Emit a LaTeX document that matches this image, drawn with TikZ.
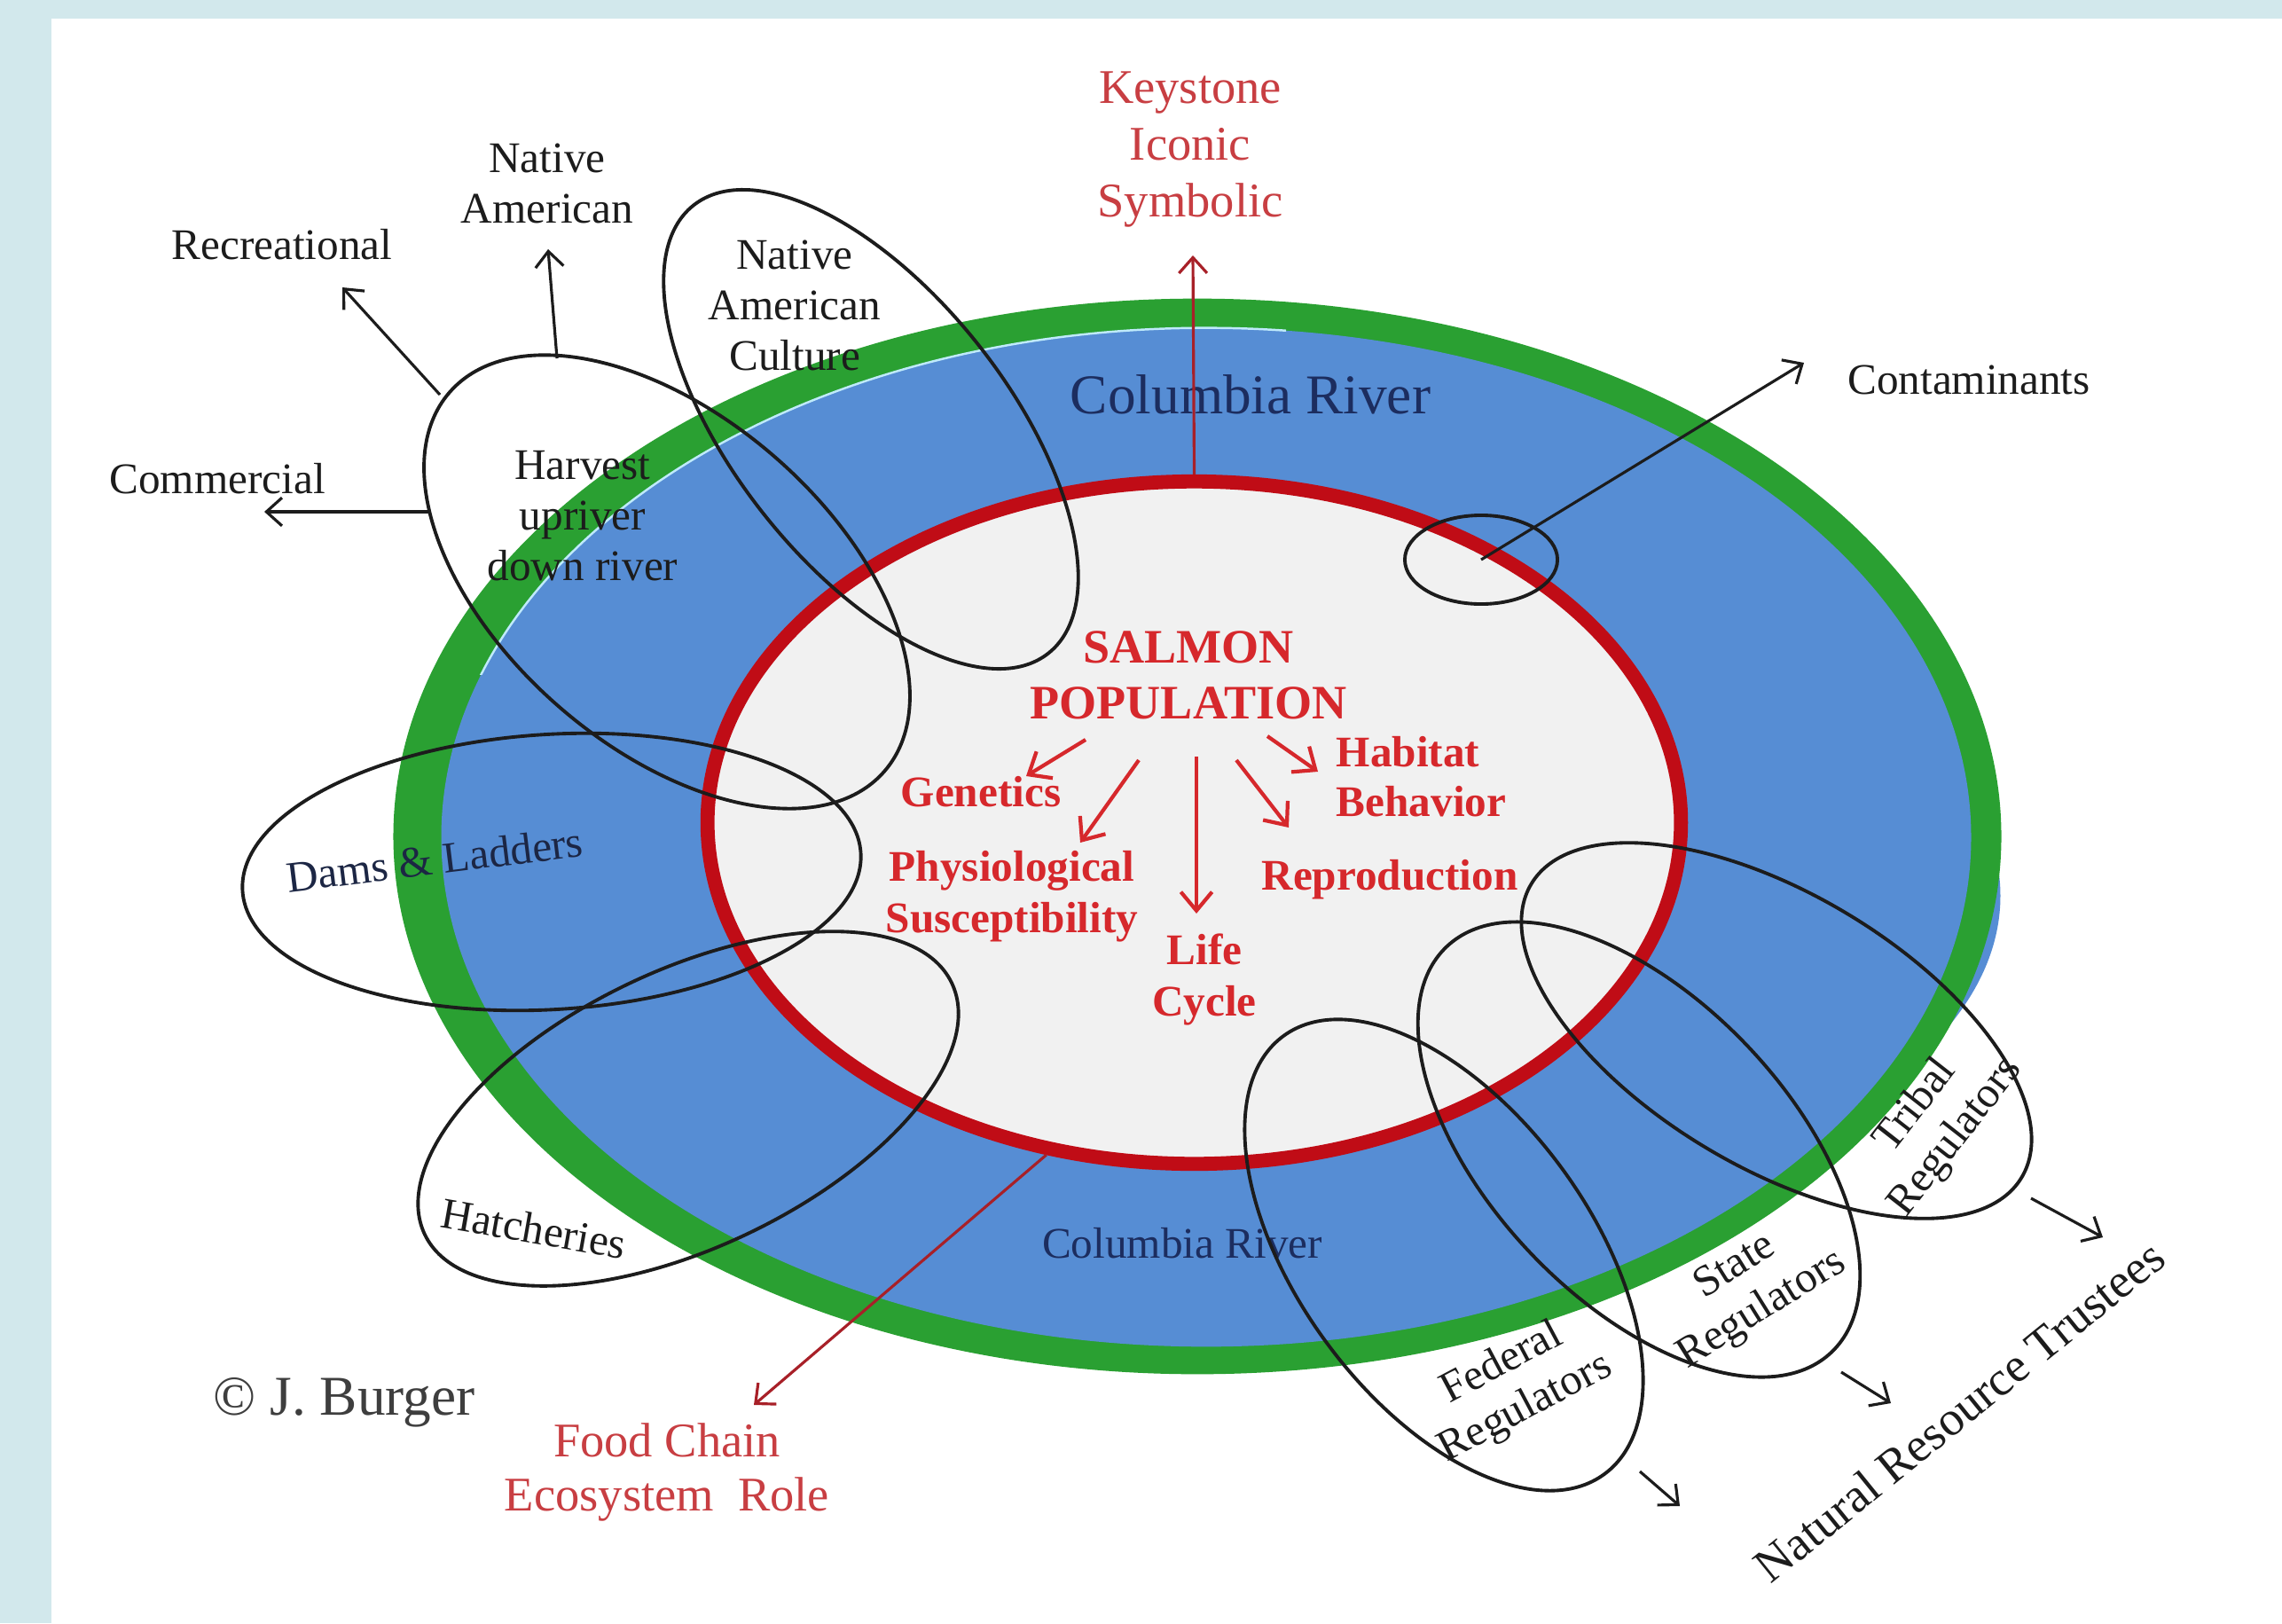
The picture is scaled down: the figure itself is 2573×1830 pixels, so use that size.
\documentclass[tikz,border=0pt]{standalone}
\usepackage{fontspec}
\setmainfont{Liberation Serif}
\usetikzlibrary{arrows.meta,shapes.geometric}
\definecolor{strip}{RGB}{210,232,236}
\definecolor{rimgreen}{RGB}{42,160,50}
\definecolor{riverblue}{RGB}{86,141,212}
\definecolor{innergray}{RGB}{241,241,241}
\definecolor{ringred}{RGB}{192,12,22}
\definecolor{popred}{RGB}{214,40,44}
\definecolor{softred}{RGB}{200,62,66}
\definecolor{darkred}{RGB}{168,32,40}
\definecolor{navy}{RGB}{28,45,95}
\definecolor{ink}{RGB}{28,28,28}
\tikzset{
  ring/.style={ellipse, draw=ink, line width=1.1pt, inner sep=0pt},
  lbl/.style={text=ink, inner sep=0pt, align=center, font=\fontsize{14}{16.2}\selectfont},
  redlbl/.style={text=softred, inner sep=0pt, align=center, font=\fontsize{15.5}{18.2}\selectfont},
  poplbl/.style={text=popred, inner sep=0pt, align=center, font=\bfseries\fontsize{14}{16.5}\selectfont},
  riverlbl/.style={text=navy, inner sep=0pt},
  barrow/.style={draw=ink, line width=0.9pt, -{Straight Barb[length=5pt,width=9pt]}},
  rarrow/.style={draw=popred, line width=1.2pt, -{Straight Barb[length=6pt,width=10pt]}},
  dkarrow/.style={draw=darkred, line width=0.9pt, -{Straight Barb[length=5pt,width=9pt]}},
}
\begin{document}
\begin{tikzpicture}[x=0.01cm, y=-0.01cm]
\useasboundingbox (0,0) rectangle (2573,1830);
\fill[strip] (0,0) rectangle (2573,1830);
\fill[white] (58,21) rectangle (2573,1830);

% river rings
\fill[riverblue] (1420,1010) ellipse [x radius=8.35cm, y radius=4.0cm];
\fill[rimgreen] (1350,943) ellipse [x radius=9.06cm, y radius=6.06cm];
\fill[riverblue] (1360,944) ellipse [x radius=8.62cm, y radius=5.74cm];
\begin{scope}
  \clip (400,300) rectangle (1450,760);
  \draw[white!75!cyan, line width=0.7pt] (1360,944) ellipse [x radius=8.62cm, y radius=5.74cm];
\end{scope}
\node[ellipse, draw=ringred, fill=innergray, line width=4.5pt, inner sep=0pt,
      minimum width=10.97cm, minimum height=7.69cm] (salmon) at (1346.5,927.5) {};

% river labels
\node[riverlbl, font=\fontsize{18}{20}\selectfont] (riverTop) at (1410,445) {Columbia River};
\node[riverlbl, font=\fontsize{14}{16}\selectfont] (riverBot) at (1333,1402) {Columbia River};

% overlapping ellipses
\node[ring, minimum width=6.5cm, minimum height=3.72cm, rotate=-41.1] (harvest) at (752,656) {};
\node[ring, minimum width=6.44cm, minimum height=3.08cm, rotate=-51.6] (culture) at (982,484) {};
\node[ring, minimum width=6.98cm, minimum height=3.10cm, rotate=3.5] (dams) at (622,983) {};
\node[ring, minimum width=6.58cm, minimum height=3.12cm, rotate=25.5] (hatch) at (776,1250) {};
\node[ring, minimum width=6.12cm, minimum height=3.30cm, rotate=-53.8] (federal) at (1628,1415) {};
\node[ring, minimum width=6.30cm, minimum height=3.38cm, rotate=-46.5] (state) at (1848,1296) {};
\node[ring, minimum width=6.44cm, minimum height=3.08cm, rotate=-30.9] (tribal) at (2003,1162) {};
\node[ring, minimum width=1.72cm, minimum height=1.00cm] (contring) at (1670,631) {};

% black labels
\node[lbl] (natam) at (617,207) {Native\\American};
\node[lbl] (recr) at (318,276) {Recreational};
\node[lbl] (comm) at (245,540) {Commercial};
\node[lbl] (harvtxt) at (657,582) {Harvest\\upriver\\down river};
\node[lbl] (culttxt) at (896,344) {Native\\American\\Culture};
\node[lbl] (contam) at (2220,428) {Contaminants};
\node[lbl, text=navy!60!ink, rotate=7] (damstxt) at (490,969) {Dams \& Ladders};
\node[lbl, rotate=-10] (hatchtxt) at (602,1385) {Hatcheries};
\node[lbl, rotate=28] (fedtxt) at (1707,1563) {Federal\\Regulators};
\node[lbl, rotate=32] (statetxt) at (1972,1453) {State\\Regulators};
\node[lbl, rotate=52] (tribtxt) at (2183,1265) {Tribal\\Regulators};
\node[lbl, rotate=39, font=\fontsize{15.5}{18}\selectfont] (nrt) at (2209,1591) {Natural Resource Trustees};
\node[lbl, text=ink!85, font=\fontsize{18}{20}\selectfont] (burger) at (388,1581) {© J. Burger};

% red labels
\node[redlbl] (keystone) at (1342,169) {Keystone\\Iconic\\Symbolic};
\node[redlbl, font=\fontsize{15.5}{17.4}\selectfont] (food) at (752,1660) {Food Chain\\Ecosystem\hspace{0.25em} Role};
\node[poplbl, font=\bfseries\fontsize{15.4}{17.9}\selectfont] (pop) at (1340,761) {SALMON\\POPULATION};
\node[poplbl] (gen) at (1106,893) {Genetics};
\node[poplbl] (phys) at (1141,1011) {Physiological\\Susceptibility};
\node[poplbl] (life) at (1358,1104) {Life\\Cycle};
\node[poplbl, align=left, anchor=west, font=\bfseries\fontsize{14}{16}\selectfont] (hab) at (1506,876) {Habitat\\Behavior};
\node[poplbl] (repro) at (1567,992) {Reproduction};

% arrow end points
\coordinate (naS) at (628,404);  \coordinate (naE) at (618,281);
\coordinate (recS) at (496,445); \coordinate (recE) at (386,324);
\coordinate (comS) at (485,577); \coordinate (comE) at (298,577);
\coordinate (ctE) at (2034,409);
\coordinate (ksE) at (1345,288);
\coordinate (fdE) at (850,1584);
\coordinate (gS) at (1224,834);  \coordinate (gE) at (1157,875);
\coordinate (pS) at (1284,857);  \coordinate (pE) at (1218,950);
\coordinate (lS) at (1349,853);  \coordinate (lE) at (1349,1030);
\coordinate (rS) at (1394,857);  \coordinate (rE) at (1453,933);
\coordinate (hS) at (1429,830);  \coordinate (hE) at (1486,870);
\coordinate (fS) at (1849,1659); \coordinate (fE) at (1894,1698);
\coordinate (sS) at (2076,1547); \coordinate (sE) at (2132,1582);
\coordinate (tS) at (2290,1351); \coordinate (tE) at (2371,1395);

% black connectors
\draw[barrow] (naS) -- (naE);
\draw[barrow] (recS) -- (recE);
\draw[barrow] (comS) -- (comE);
\draw[barrow] (contring.center) -- (ctE);
\draw[barrow] (fS) -- (fE);
\draw[barrow] (sS) -- (sE);
\draw[barrow] (tS) -- (tE);

% red connectors
\draw[dkarrow] (salmon.north) -- (ksE);
\draw[dkarrow] (salmon.246) -- (fdE);
\draw[rarrow] (gS) -- (gE);
\draw[rarrow] (pS) -- (pE);
\draw[rarrow] (lS) -- (lE);
\draw[rarrow] (rS) -- (rE);
\draw[rarrow] (hS) -- (hE);
\end{tikzpicture}
\end{document}
